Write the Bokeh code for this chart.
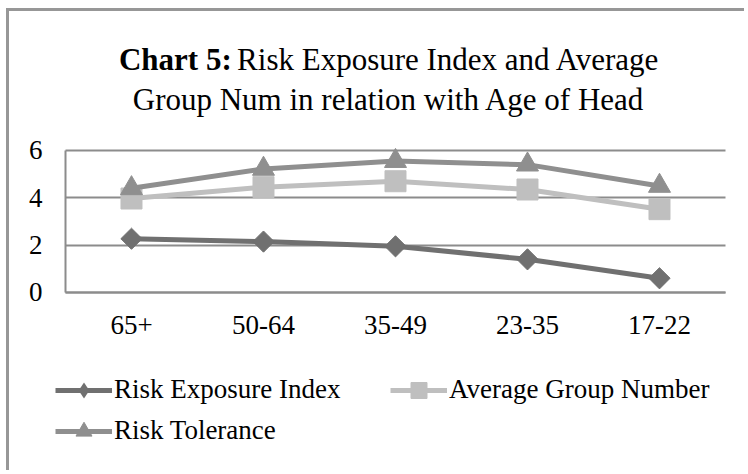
from bokeh.plotting import figure
from bokeh.models import Label, Legend, LegendItem, FixedTicker, Range1d
from bokeh.embed import file_html
from bokeh.resources import INLINE
import math

categories = ["65+", "50-64", "35-49", "23-35", "17-22"]
risk_exposure = [2.27, 2.15, 1.95, 1.40, 0.60]
avg_group = [3.97, 4.45, 4.70, 4.35, 3.52]
risk_tolerance = [4.40, 5.22, 5.55, 5.40, 4.50]
y_ticks = [0, 2, 4, 6]

FONT = "Liberation Serif"
GRID = "#8c8c8c"
C_RE = "#707070"
C_AG = "#bfbfbf"
C_RT = "#8f8f8f"

# category positions on a numeric axis (category i centred at i + 0.5)
xs = [i + 0.5 for i in range(len(categories))]
n = len(categories)

W, H = 738, 462
p = figure(x_range=Range1d(-0.4242, 5.1667), y_range=Range1d(-7.647, 11.87),
           width=W, height=H, output_backend="svg", toolbar_location=None,
           min_border=0, min_border_left=0, min_border_right=0,
           min_border_top=0, min_border_bottom=0)
p.styles = {"margin-left": "6px", "margin-top": "8px",
            "border-left": "3px solid #979797", "border-top": "3px solid #979797"}
p.outline_line_color = None
p.background_fill_color = "white"
p.border_fill_color = "white"

p.xgrid.grid_line_color = None
p.ygrid.ticker = FixedTicker(ticks=y_ticks)
p.ygrid.grid_line_color = GRID
p.ygrid.grid_line_width = 2
try:
    p.ygrid.cross_bounds = (0, n)
except AttributeError:
    p.ygrid.grid_line_color = None
    p.segment(x0=0, x1=n, y0=y_ticks, y1=y_ticks, line_color=GRID, line_width=2)

p.yaxis.ticker = FixedTicker(ticks=y_ticks)
p.yaxis.bounds = (min(y_ticks), max(y_ticks))
p.yaxis.fixed_location = 0
p.xaxis.ticker = FixedTicker(ticks=xs)
p.xaxis.major_label_overrides = {x: c for x, c in zip(xs, categories)}
p.xaxis.bounds = (0, n)
p.xaxis.fixed_location = 0
for ax in (p.xaxis[0], p.yaxis[0]):
    ax.axis_line_color = GRID
    ax.axis_line_width = 2
    ax.major_tick_line_color = None
    ax.major_tick_out = 0
    ax.major_tick_in = 0
    ax.minor_tick_line_color = None
    ax.major_label_text_font = FONT
    ax.major_label_text_font_size = "27px"
    ax.major_label_text_color = "black"
p.yaxis.major_label_standoff = 23
p.xaxis.major_label_standoff = 24

r_re_l = p.line(xs, risk_exposure, line_color=C_RE, line_width=5)
r_re_m = p.scatter(xs, risk_exposure, marker="square", angle=math.pi / 4,
                   size=15, fill_color=C_RE, line_color=C_RE)
# diamond drawn at size 0: only its legend glyph is visible
r_re_leg = p.scatter(xs, risk_exposure, marker="diamond", size=0,
                     fill_color=C_RE, line_color=C_RE, line_width=0)
r_ag_l = p.line(xs, avg_group, line_color=C_AG, line_width=5)
r_ag_m = p.scatter(xs, avg_group, marker="square", size=21,
                   fill_color=C_AG, line_color=C_AG)
r_rt_l = p.line(xs, risk_tolerance, line_color=C_RT, line_width=5)
r_rt_m = p.scatter(xs, risk_tolerance, marker="triangle", size=22,
                   fill_color=C_RT, line_color=C_RT)

legend = Legend(items=[
    LegendItem(label="Risk Exposure Index", renderers=[r_re_l, r_re_leg]),
    LegendItem(label="Average Group Number", renderers=[r_ag_l, r_ag_m]),
    LegendItem(label="Risk Tolerance", renderers=[r_rt_l, r_rt_m])],
    location=(46, 22), orientation="horizontal", ncols=2,
    label_text_font=FONT, label_text_font_size="27px", label_text_color="black",
    glyph_width=57, glyph_height=40, label_height=41, label_width=276,
    label_standoff=2, spacing=0, padding=0, margin=0,
    border_line_color=None, background_fill_alpha=0)
p.add_layout(legend, "center")

# title (data coords)
TITLE_SIZE = "31px"
title_cx = 2.45
x0 = 0.405
x_norm = 1.30
p.add_layout(Label(x=x0, y=9.84, text="Chart 5:", text_font=FONT,
                   text_font_style="bold", text_font_size=TITLE_SIZE,
                   text_color="black", text_baseline="alphabetic"))
p.add_layout(Label(x=x_norm, y=9.84, text="Risk Exposure Index and Average",
                   text_font=FONT, text_font_size=TITLE_SIZE, text_color="black",
                   text_baseline="alphabetic"))
p.add_layout(Label(x=title_cx, y=8.15, text="Group Num in relation with Age of Head",
                   text_font=FONT, text_font_size=TITLE_SIZE, text_color="black",
                   text_align="center", text_baseline="alphabetic"))

open("out.html", "w").write(file_html(p, INLINE))
